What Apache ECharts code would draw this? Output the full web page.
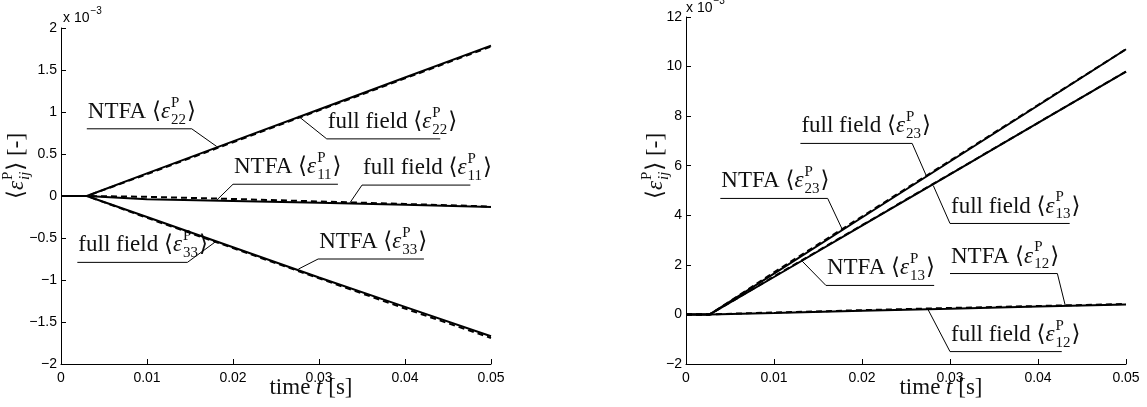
<!DOCTYPE html>
<html>
<head>
<meta charset="utf-8">
<script src="https://cdn.jsdelivr.net/npm/echarts@6/dist/echarts.min.js"></script>
<style>
  html, body { margin: 0; padding: 0; background: #fff; }
  #chart { width: 1147px; height: 407px; }
</style>
</head>
<body>
<div id="chart"></div>
<script>
// values in units of 1e-3
const timeL = [0, 0.003, 0.01, 0.02, 0.03, 0.04, 0.05]
const ff22 = [0, 0, 0.27, 0.65, 1.03, 1.41, 1.79]
const ntfa22 = [0, 0, 0.26, 0.64, 1.02, 1.40, 1.78]
const ff11 = [0, 0, -0.04, -0.06, -0.08, -0.105, -0.13]
const ntfa11 = [0, 0, -0.01, -0.035, -0.065, -0.095, -0.125]
const ff33 = [0, 0, -0.25, -0.61, -0.97, -1.32, -1.67]
const ntfa33 = [0, 0, -0.26, -0.62, -0.98, -1.34, -1.69]

const timeR = [0, 0.0027, 0.01, 0.02, 0.03, 0.04, 0.05]
const ff23 = [0, 0, 1.65, 3.91, 6.17, 8.43, 10.7]
const ntfa23 = [0, 0, 1.70, 3.95, 6.20, 8.45, 10.7]
const ff13 = [0, 0, 1.51, 3.58, 5.65, 7.73, 9.8]
const ntfa13 = [0, 0, 1.53, 3.60, 5.66, 7.73, 9.8]
const ff12 = [0, 0, 0.06, 0.15, 0.23, 0.32, 0.40]
const ntfa12 = [0, 0, 0.08, 0.17, 0.26, 0.34, 0.42]

const xTicks = { min: 0, max: 0.05, interval: 0.01 }
const yTicksL = { min: -2, max: 2, interval: 0.5 }
const yTicksR = { min: -2, max: 12, interval: 2 }

// annotation labels: underline from t1..t2 at v, leader to tip
const notes = [
  { g: 0, pre: 'NTFA ', sub: '22', t1: 0.0030, t2: 0.0152, v: 0.80, tip: [0.0181, 0.59], end: 'right' },
  { g: 0, pre: 'full field ', sub: '22', t1: 0.0309, t2: 0.0441, v: 0.68, tip: [0.0276, 0.95], end: 'left' },
  { g: 0, pre: 'NTFA ', sub: '11', t1: 0.0200, t2: 0.0322, v: 0.14, tip: [0.0181, -0.05], end: 'left' },
  { g: 0, pre: 'full field ', sub: '11', t1: 0.0350, t2: 0.0476, v: 0.13, tip: [0.0336, -0.08], end: 'left' },
  { g: 0, pre: 'full field ', sub: '33', t1: 0.0019, t2: 0.0147, v: -0.79, tip: [0.0179, -0.55], end: 'right' },
  { g: 0, pre: 'NTFA ', sub: '33', t1: 0.0299, t2: 0.0422, v: -0.75, tip: [0.0276, -0.87], end: 'left' },
  { g: 1, pre: 'full field ', sub: '23', t1: 0.0130, t2: 0.0257, v: 6.9, tip: [0.0273, 5.6], end: 'right' },
  { g: 1, pre: 'full field ', sub: '13', t1: 0.0300, t2: 0.0436, v: 3.67, tip: [0.0281, 5.2], end: 'left' },
  { g: 1, pre: 'NTFA ', sub: '23', t1: 0.0039, t2: 0.0161, v: 4.68, tip: [0.0178, 3.4], end: 'right' },
  { g: 1, pre: 'NTFA ', sub: '13', t1: 0.0159, t2: 0.0282, v: 1.17, tip: [0.0132, 2.15], end: 'left' },
  { g: 1, pre: 'NTFA ', sub: '12', t1: 0.0300, t2: 0.0422, v: 1.65, tip: [0.0431, 0.36], end: 'right' },
  { g: 1, pre: 'full field ', sub: '12', t1: 0.0300, t2: 0.0427, v: -1.5, tip: [0.0275, 0.2], end: 'left' }
]

const SERIF = '"Liberation Serif", "DejaVu Serif", serif'
const SANS = '"Liberation Sans", Arial, sans-serif'
const font = (size, italic) => (italic ? 'italic ' : '') + size + 'px ' + SERIF
const ctx = document.createElement('canvas').getContext('2d')
const measure = (text, f) => { ctx.font = f; return ctx.measureText(text).width }

// builds ⟨ε^P_sub⟩ style text as separate pieces
function mathLabel(pre, sub, subItalic, post) {
  const kids = []
  let x = 0
  const put = (text, f, dy) => {
    kids.push({ type: 'text', x: x, y: dy, style: { text: text, font: f, fill: '#111', align: 'left', verticalAlign: 'middle' } })
  }
  const fm = font(23), fi = font(23, true), fs = font(15), fsub = font(15, subItalic)
  if (pre) { put(pre, fm, 0); x += measure(pre, fm) }
  put('⟨', fm, 0); x += measure('⟨', fm)
  put('ε', fi, 0); x += measure('ε', fi) + 1
  put('P', fs, -9)
  put(sub, fsub, 8)
  x += Math.max(measure('P', fs), measure(sub, fsub)) + 1
  put('⟩', fm, 0); x += measure('⟩', fm)
  if (post) { put(post, fm, 0); x += measure(post, fm) }
  return { kids, width: x }
}

const axisCommon = {
  axisLine: { onZero: false, lineStyle: { color: '#000', width: 1 } },
  axisTick: { inside: true, length: 5, lineStyle: { color: '#000' } },
  splitLine: { show: false },
  axisLabel: { color: '#000', fontFamily: SANS, fontSize: 14 }
}

const minus = v => String(v).replace('-', '\u2212')

function xAxis(gridIndex) {
  return Object.assign({}, axisCommon, {
    type: 'value', gridIndex, ...xTicks,
    axisLabel: Object.assign({}, axisCommon.axisLabel, { margin: 7, formatter: v => v === 0 ? '0' : v.toFixed(2) })
  })
}
function yAxis(gridIndex, ticks) {
  return Object.assign({}, axisCommon, {
    type: 'value', gridIndex, ...ticks,
    axisLabel: Object.assign({}, axisCommon.axisLabel, { margin: 4, formatter: minus })
  })
}

function line(name, time, vals, idx, dashed) {
  return {
    name, type: 'line', xAxisIndex: idx, yAxisIndex: idx,
    data: time.map((t, i) => [t, vals[i]]),
    symbol: 'none', silent: true, z: dashed ? 3 : 2,
    lineStyle: { color: '#000', width: 2, type: dashed ? [6, 4] : 'solid' }
  }
}

const chart = echarts.init(document.getElementById('chart'), null, { renderer: 'canvas' })
chart.setOption({
  animation: false,
  backgroundColor: '#fff',
  grid: [
    { left: 61, right: 656, top: 28, bottom: 43 },
    { left: 686, right: 21, top: 17, bottom: 43 }
  ],
  xAxis: [xAxis(0), xAxis(1)],
  yAxis: [yAxis(0, yTicksL), yAxis(1, yTicksR)],
  series: [
    line('full field 22', timeL, ff22, 0, false),
    line('NTFA 22', timeL, ntfa22, 0, true),
    line('full field 11', timeL, ff11, 0, false),
    line('NTFA 11', timeL, ntfa11, 0, true),
    line('full field 33', timeL, ff33, 0, false),
    line('NTFA 33', timeL, ntfa33, 0, true),
    line('full field 23', timeR, ff23, 1, false),
    line('NTFA 23', timeR, ntfa23, 1, true),
    line('full field 13', timeR, ff13, 1, false),
    line('NTFA 13', timeR, ntfa13, 1, true),
    line('full field 12', timeR, ff12, 1, false),
    line('NTFA 12', timeR, ntfa12, 1, true)
  ]
})

const px = (g, t, v) => chart.convertToPixel({ gridIndex: g }, [t, v])
const graphics = []

notes.forEach(n => {
  const a = px(n.g, n.t1, n.v)
  const b = px(n.g, n.t2, n.v)
  const tip = px(n.g, n.tip[0], n.tip[1])
  const pts = n.end === 'right' ? [a, b, tip] : [tip, a, b]
  graphics.push({ type: 'polyline', shape: { points: pts }, style: { stroke: '#000', lineWidth: 1, fill: null }, z: 10 })
  const lab = mathLabel(n.pre, n.sub, false, '')
  graphics.push({ type: 'group', x: a[0] + 1, y: a[1] - 17, children: lab.kids, z: 10 })
})

// y axis titles
;[[17, 166], [656, 166]].forEach(p => {
  const lab = mathLabel('', 'ij', true, ' [-]')
  graphics.push({ type: 'group', x: p[0], y: p[1] + lab.width / 2, rotation: Math.PI / 2, children: lab.kids })
})

// x axis titles
;[311, 941].forEach(cx => {
  const fm = font(23), fi = font(23, true)
  const w1 = measure('time ', fm), w2 = measure('t', fi), w3 = measure(' [s]', fm)
  const x0 = cx - (w1 + w2 + w3) / 2
  const st = (text, f) => ({ text, font: f, fill: '#111', align: 'left', verticalAlign: 'middle' })
  graphics.push({ type: 'text', x: x0, y: 388, style: st('time ', fm) })
  graphics.push({ type: 'text', x: x0 + w1, y: 388, style: st('t', fi) })
  graphics.push({ type: 'text', x: x0 + w1 + w2, y: 388, style: st(' [s]', fm) })
})

// exponent marks
;[[0, yTicksL.max, 2, 10], [1, yTicksR.max, 0, 9]].forEach(e => {
  const top = px(e[0], 0, e[1])
  const base = top[0] + e[2]
  const y = top[1] - e[3]
  const f = '14px ' + SANS
  graphics.push({ type: 'text', x: base, y: y, style: { text: 'x 10', font: f, fill: '#000', verticalAlign: 'middle' } })
  graphics.push({ type: 'text', x: base + measure('x 10', f) + 1, y: y - 7, style: { text: '\u22123', font: '10px ' + SANS, fill: '#000', verticalAlign: 'middle' } })
})

chart.setOption({ graphic: graphics })
</script>
</body>
</html>
